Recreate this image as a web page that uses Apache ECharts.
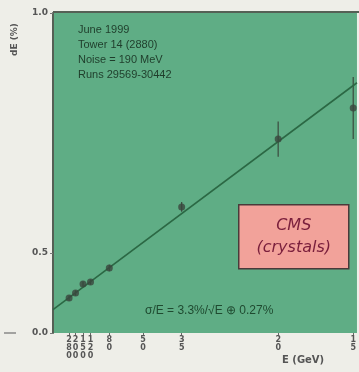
<!DOCTYPE html>
<html>
<head>
<meta charset="utf-8">
<script src="https://cdn.jsdelivr.net/npm/echarts@6/dist/echarts.min.js"></script>
<style>
  html, body { margin: 0; padding: 0; background: #eeeee8; }
  #chart { width: 359px; height: 372px; }
</style>
</head>
<body>
<div id="chart"></div>
<script>
// beam energies (GeV) -> plotted at 1/E; y is (sigma/E)^2 in %^2
const tickEnergies = [280, 200, 150, 120, 80, 50, 35, 20, 15];
const pointEnergies = [280, 200, 150, 120, 80, 35, 20, 15];
const sigmaSq = [0.109, 0.125, 0.153, 0.159, 0.203, 0.394, 0.606, 0.703];
const sigmaSqErr = [0.008, 0.008, 0.008, 0.008, 0.01, 0.015, 0.055, 0.097];
const yTickValues = [0, 0.25, 1.0];
const fitLine = [[0, 0.073], [0.0675, 0.782]];
const infoLines = ['June 1999', 'Tower 14 (2880)', 'Noise = 190 MeV', 'Runs 29569-30442'];
const fitText = 'σ/E = 3.3%/√E ⊕ 0.27%';

const chart = echarts.init(document.getElementById('chart'));

const points = pointEnergies.map((e, i) => [1 / e, sigmaSq[i], sigmaSqErr[i]]);

chart.setOption({
  backgroundColor: '#eeeee8',
  animation: false,
  grid: { left: 53, top: 13, right: 0, bottom: 39, show: true, backgroundColor: '#5fad85', borderWidth: 0 },
  xAxis: {
    type: 'value', min: 0, max: 0.0675,
    axisLine: { show: false },
    splitLine: { show: false },
    axisTick: { show: true, customValues: tickEnergies.map(e => 1 / e), length: 3, lineStyle: { color: '#666' } },
    axisLabel: {
      customValues: tickEnergies.map(e => 1 / e),
      formatter: v => String(Math.round(1 / v)).split('').join('\n'),
      color: '#555', fontSize: 8, lineHeight: 8, fontFamily: 'DejaVu Sans', fontWeight: 'bold',
      margin: 3, hideOverlap: false
    }
  },
  yAxis: {
    type: 'value', min: 0, max: 1,
    axisLine: { show: true, lineStyle: { color: '#556055', width: 2 } },
    splitLine: { show: false },
    axisTick: { show: true, customValues: yTickValues, length: 3, lineStyle: { color: '#777' } },
    axisLabel: {
      customValues: yTickValues,
      formatter: v => Math.sqrt(v).toFixed(1),
      color: '#555', fontSize: 9, fontFamily: 'DejaVu Sans', fontWeight: 'bold', margin: 5
    }
  },
  series: [
    {
      type: 'line', data: fitLine, showSymbol: false, silent: true,
      lineStyle: { color: '#2b6844', width: 1.6 }
    },
    {
      type: 'custom', data: points,
      renderItem: (params, api) => {
        const x = api.value(0), y = api.value(1), err = api.value(2);
        const top = api.coord([x, y + err]);
        const bot = api.coord([x, y - err]);
        return {
          type: 'line',
          shape: { x1: top[0], y1: top[1], x2: bot[0], y2: bot[1] },
          style: { stroke: '#3a4a3e', lineWidth: 1.2 }
        };
      },
      z: 3
    },
    {
      type: 'scatter', data: points.map(p => [p[0], p[1]]),
      symbol: 'circle', symbolSize: 7,
      itemStyle: { color: '#3a463d' }, z: 4
    }
  ],
  graphic: [
    { type: 'line', shape: { x1: 53, y1: 12, x2: 359, y2: 12 }, style: { stroke: '#556055', lineWidth: 2 } },
    { type: 'line', shape: { x1: 4, y1: 333, x2: 16, y2: 333 }, style: { stroke: '#888', lineWidth: 1.5 } },
    {
      type: 'text', x: 10, y: 56, rotation: Math.PI / 2,
      style: { text: 'dE (%)', fontSize: 9, fill: '#555', fontFamily: 'DejaVu Sans', fontWeight: 'bold' }
    },
    {
      type: 'text', left: 78, top: 22,
      style: { text: infoLines.join('\n'), fontSize: 11, lineHeight: 15, fill: '#1f3d2b', fontFamily: 'Liberation Sans' }
    },
    {
      type: 'text', left: 145, top: 305,
      style: { text: fitText, fontSize: 12, fill: '#1f4a30', fontFamily: 'Liberation Sans' }
    },
    {
      type: 'group', left: 238, top: 204,
      children: [
        { type: 'rect', shape: { x: 0, y: 0, width: 110, height: 64 }, style: { fill: '#f2a29a', stroke: '#4a3a3a', lineWidth: 1.5 } },
        {
          type: 'text', x: 55, y: 32,
          style: {
            text: 'CMS\n(crystals)', align: 'center', verticalAlign: 'middle',
            fontSize: 16, lineHeight: 22, fontStyle: 'italic', fill: '#7a1f3c', fontFamily: 'DejaVu Sans'
          }
        }
      ]
    },
    {
      type: 'text', left: 282, top: 355,
      style: { text: 'E (GeV)', fontSize: 10, fill: '#555', fontFamily: 'DejaVu Sans', fontWeight: 'bold' }
    }
  ]
});
</script>
</body>
</html>
